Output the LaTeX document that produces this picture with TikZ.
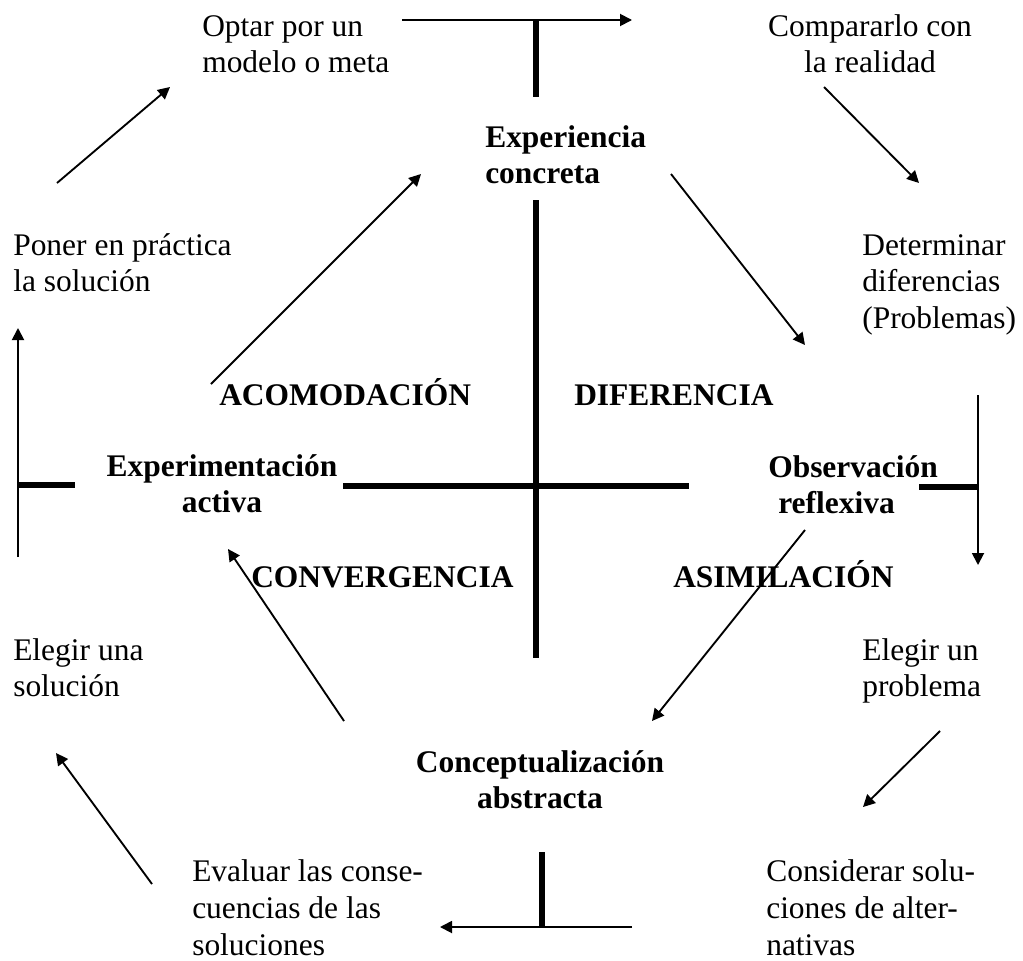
\documentclass[tikz,border=0pt]{standalone}
\usepackage{fontspec}
\setmainfont{Liberation Serif}
\usetikzlibrary{arrows.meta}
\begin{document}
\begin{tikzpicture}[x=0.75pt,y=-0.75pt,
  txt/.style={inner sep=0pt, anchor=base west, align=left, font=\fontsize{23.6pt}{27.6pt}\selectfont},
  btxt/.style={txt, font=\fontsize{23.6pt}{27.6pt}\selectfont\bfseries},
  arrowline/.style={line width=1.4pt, -{Triangle[length=9pt,width=9pt]}},
  thickbar/.style={line width=4.5pt},
]
\fill[white] (0,0) rectangle (1023,960);
\useasboundingbox (0,0) rectangle (1023,960);

% texts (anchor = baseline of the last line)
\node[txt] (optar) at (202,72.8) {Optar por un\\modelo o meta};
\node[txt, align=center, anchor=base] (comparar) at (870,72.8) {Compararlo con\\la realidad};
\node[btxt] (exp) at (485,183.8) {Experiencia\\concreta};
\node[txt] (poner) at (13,291.8) {Poner en práctica\\la solución};
\node[txt] (det) at (862,328.6) {Determinar\\diferencias\\(Problemas)};
\node[btxt] (acom) at (219,405) {ACOMODACIÓN};
\node[btxt] (dif) at (574,405) {DIFERENCIA};
\node[btxt, align=center, anchor=base] (expact) at (222,512.8) {Experimentación\\activa};
\node[btxt] (obs) at (768,513.8) {Observación\\\hspace*{7.5pt}reflexiva};
\node[btxt] (conv) at (251,587) {CONVERGENCIA};
\node[btxt] (asim) at (673,587) {ASIMILACIÓN};
\node[txt] (elegirs) at (13,696.8) {Elegir una\\solución};
\node[txt] (elegirp) at (862,696.8) {Elegir un\\problema};
\node[btxt, align=center, anchor=base] (concept) at (540,808.8) {Conceptualización\\abstracta};
\node[txt] (evaluar) at (192,955) {Evaluar las conse-\\cuencias de las\\soluciones};
\node[txt] (consid) at (766,955) {Considerar solu-\\ciones de alter-\\nativas};

% coordinates
\coordinate (topL) at (402,20);
\coordinate (topR) at (632,20);
\coordinate (topJ) at (536,20);
\coordinate (topB) at (536,97);
\coordinate (vT) at (536,200);
\coordinate (vB) at (536,658);
\coordinate (hL) at (343,486);
\coordinate (hR) at (689,486);
\coordinate (lbA) at (18,485);
\coordinate (lbB) at (75,485);
\coordinate (laS) at (18,557);
\coordinate (laE) at (18,328);
\coordinate (rbA) at (919,487);
\coordinate (rbB) at (978,487);
\coordinate (raS) at (978,395);
\coordinate (raE) at (978,565);
\coordinate (bJ) at (542,852);
\coordinate (bB) at (542,927);
\coordinate (baS) at (632,927);
\coordinate (baE) at (440,927);
\coordinate (a1s) at (57,183);   \coordinate (a1e) at (170,87);
\coordinate (a2s) at (824,87);   \coordinate (a2e) at (919,183);
\coordinate (a3s) at (671,174);  \coordinate (a3e) at (805,345);
\coordinate (a4s) at (211,384);  \coordinate (a4e) at (421,174);
\coordinate (a5s) at (805,530);  \coordinate (a5e) at (652,721);
\coordinate (a6s) at (344,721);  \coordinate (a6e) at (228,549);
\coordinate (a7s) at (940,731);  \coordinate (a7e) at (863,807);
\coordinate (a8s) at (152,884);  \coordinate (a8e) at (56,753);

% cross and bars
\draw[thickbar] (vT) -- (vB);
\draw[thickbar] (hL) -- (hR);
\draw[thickbar] (topJ) -- (topB);
\draw[thickbar] (lbA) -- (lbB);
\draw[thickbar] (rbA) -- (rbB);
\draw[thickbar] (bJ) -- (bB);

% straight arrows
\draw[arrowline] (topL) -- (topR);
\draw[arrowline] (laS) -- (laE);
\draw[arrowline] (raS) -- (raE);
\draw[arrowline] (baS) -- (baE);

% diagonal arrows
\draw[arrowline] (a1s) -- (a1e);
\draw[arrowline] (a2s) -- (a2e);
\draw[arrowline] (a3s) -- (a3e);
\draw[arrowline] (a4s) -- (a4e);
\draw[arrowline] (a5s) -- (a5e);
\draw[arrowline] (a6s) -- (a6e);
\draw[arrowline] (a7s) -- (a7e);
\draw[arrowline] (a8s) -- (a8e);
\end{tikzpicture}
\end{document}
